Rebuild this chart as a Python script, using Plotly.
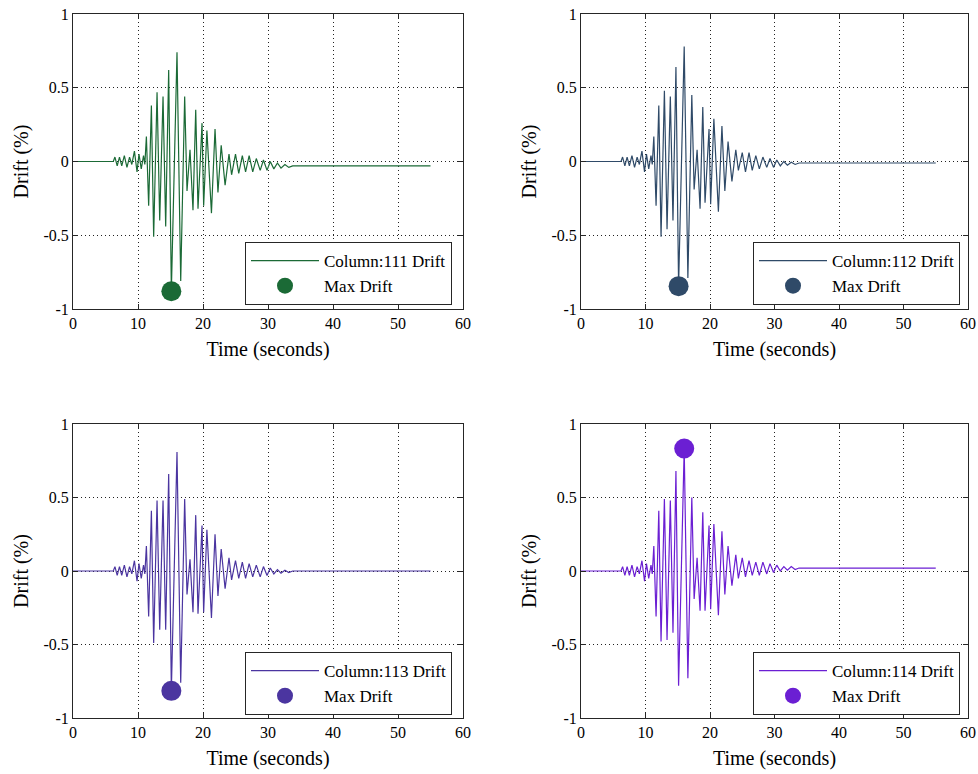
import plotly.graph_objects as go

# Times (s) of the turning points (shared by all four columns)
time_s = [0, 6.2, 6.45, 6.8, 7.15, 7.5, 7.9, 8.3, 8.7, 9.05,
          9.45, 9.85, 10.15, 10.5, 10.85, 11.05, 11.29, 11.64, 12.06, 12.41,
          12.93, 13.34, 13.85, 14.26, 14.72, 15.13, 16.0, 16.57, 17.18, 17.54,
          18.0, 18.46, 18.88, 19.23, 19.85, 20.1, 20.6, 21.3, 21.85, 22.3,
          22.8, 23.4, 24.0, 24.4, 25.0, 25.5, 26.05, 26.55, 27.1, 27.65,
          28.2, 28.8, 29.3, 29.85, 30.35, 30.9, 31.45, 32.0, 32.6, 33.2,
          33.8, 55.0]

drift_111 = [0, 0, 0.03, -0.03, 0.03, -0.03, 0.04, -0.04, 0.03, -0.02,
             0.07, -0.07, 0.05, -0.05, 0.04, -0.02, 0.17, -0.30, 0.38, -0.51,
             0.47, -0.40, 0.44, -0.44, 0.62, -0.88, 0.74, -0.81, 0.44, -0.20,
             0.08, -0.33, 0.35, -0.32, 0.26, -0.30, 0.21, -0.35, 0.22, -0.21,
             0.11, -0.16, 0.05, -0.09, 0.05, -0.08, 0.04, -0.07, 0.04, -0.07,
             0.02, -0.06, 0.01, -0.06, 0.0, -0.05, -0.01, -0.045, -0.02, -0.04,
             -0.03, -0.03]

drift_112 = [0, 0, 0.03, -0.03, 0.03, -0.03, 0.04, -0.04, 0.03, -0.02,
             0.07, -0.07, 0.05, -0.05, 0.04, -0.02, 0.17, -0.30, 0.38, -0.51,
             0.48, -0.46, 0.44, -0.40, 0.64, -0.845, 0.78, -0.79, 0.45, -0.19,
             0.08, -0.32, 0.37, -0.28, 0.22, -0.29, 0.29, -0.34, 0.24, -0.20,
             0.135, -0.135, 0.08, -0.06, 0.06, -0.07, 0.06, -0.06, 0.04, -0.05,
             0.03, -0.04, 0.02, -0.04, 0.01, -0.03, 0.0, -0.025, -0.005, -0.02,
             -0.01, -0.01]

drift_113 = [0, 0, 0.03, -0.03, 0.03, -0.03, 0.04, -0.04, 0.03, -0.02,
             0.07, -0.07, 0.05, -0.05, 0.04, -0.02, 0.17, -0.31, 0.41, -0.49,
             0.48, -0.40, 0.48, -0.40, 0.66, -0.815, 0.81, -0.76, 0.49, -0.16,
             0.08, -0.28, 0.38, -0.29, 0.31, -0.28, 0.28, -0.32, 0.25, -0.17,
             0.15, -0.12, 0.09, -0.06, 0.07, -0.05, 0.06, -0.05, 0.05, -0.04,
             0.04, -0.04, 0.03, -0.03, 0.02, -0.02, 0.01, -0.015, 0.005, -0.01,
             0.0, 0.0]

drift_114 = [0, 0, 0.03, -0.03, 0.03, -0.03, 0.04, -0.04, 0.03, -0.02,
             0.07, -0.07, 0.05, -0.05, 0.04, -0.02, 0.17, -0.31, 0.41, -0.48,
             0.49, -0.47, 0.48, -0.42, 0.68, -0.78, 0.833, -0.73, 0.50, -0.19,
             0.09, -0.27, 0.40, -0.27, 0.31, -0.26, 0.32, -0.30, 0.27, -0.16,
             0.17, -0.10, 0.11, -0.05, 0.09, -0.04, 0.07, -0.03, 0.06, -0.03,
             0.06, -0.02, 0.05, -0.01, 0.04, 0.0, 0.03, 0.005, 0.03, 0.01,
             0.02, 0.02]

column_ids = ["111", "112", "113", "114"]
series = [drift_111, drift_112, drift_113, drift_114]
colors = ["#1b6a36", "#2f4a68", "#4b35a0", "#6b1fd3"]

x_ticks = [0, 10, 20, 30, 40, 50, 60]
y_ticks = [-1, -0.5, 0, 0.5, 1]
y_tick_text = ["-1", "-0.5", "0", "0.5", "1"]

W, H = 978, 774
# plot rectangles in pixels: (left, right, top, bottom)
rects = [(73, 463, 14, 309), (581, 968, 14, 309),
         (73, 463, 424, 718), (581, 968, 424, 718)]
legend_pos = [(452, 305), (960, 305), (452, 715), (960, 715)]

FONT = "Liberation Serif, Times New Roman, serif"
fig = go.Figure()

for i in range(4):
    vals = series[i]
    c = colors[i]
    ax = "" if i == 0 else str(i + 1)
    lg = "legend" if i == 0 else "legend" + str(i + 1)
    fig.add_trace(go.Scatter(
        x=time_s, y=vals, mode="lines", line=dict(color=c, width=1.2),
        name="Column:" + column_ids[i] + " Drift",
        xaxis="x" + ax, yaxis="y" + ax, legend=lg, hoverinfo="skip"))
    k = max(range(len(vals)), key=lambda j: abs(vals[j]))
    fig.add_trace(go.Scatter(
        x=[time_s[k]], y=[vals[k]], mode="markers",
        marker=dict(size=20, color=c), name="Max Drift",
        xaxis="x" + ax, yaxis="y" + ax, legend=lg))

    l, r, t, b = rects[i]
    axis_common = dict(
        showline=True, linecolor="#262626", linewidth=1, mirror="ticks",
        ticks="inside", ticklen=5, tickcolor="#262626",
        showgrid=True, gridcolor="#222222", griddash="1px,3px", gridwidth=1,
        zeroline=False, automargin=False,
        tickfont=dict(family=FONT, size=16, color="black"),
    )
    fig.update_layout(**{
        "xaxis" + ax: dict(
            domain=[l / W, r / W], anchor="y" + ax, range=[0, 60],
            tickvals=x_ticks, title=dict(text="Time (seconds)", standoff=10,
                                         font=dict(family=FONT, size=20, color="black")),
            **axis_common),
        "yaxis" + ax: dict(
            domain=[1 - b / H, 1 - t / H], anchor="x" + ax, range=[-1, 1],
            tickvals=y_ticks, ticktext=y_tick_text,
            title=dict(text="Drift (%)", standoff=9,
                       font=dict(family=FONT, size=20, color="black")),
            **axis_common),
        lg: dict(
            x=legend_pos[i][0] / W, y=1 - legend_pos[i][1] / H,
            xanchor="right", yanchor="bottom",
            bgcolor="white", bordercolor="#262626", borderwidth=1,
            font=dict(family=FONT, size=17, color="black"),
            itemwidth=68, tracegroupgap=0),
    })

fig.update_layout(
    width=W, height=H, margin=dict(l=0, r=0, t=0, b=0),
    paper_bgcolor="white", plot_bgcolor="white", showlegend=True,
)

fig.write_html("out.html", config={"displayModeBar": False},
               post_script="document.body.style.margin='0';document.body.style.overflow='hidden';")
